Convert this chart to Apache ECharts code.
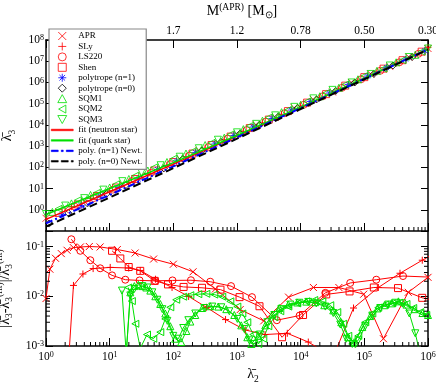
<!DOCTYPE html>
<html>
<head>
<meta charset="utf-8">
<title>lambda3 vs lambda2</title>
<script src="https://cdn.jsdelivr.net/npm/echarts@6/dist/echarts.min.js"></script>
<style>
html, body { margin: 0; padding: 0; background: #fff; }
#chart { width: 436px; height: 385px; }
</style>
</head>
<body>
<div id="chart"></div>
<script>
// ---- top panel: [lambda2, lambda3] ----
var aprTop = [[1,0.398],[2,1.0],[3.98,2.51],[7.94,5.62],[15.8,15.8],[31.6,39.8],[63.1,89.1],[126,251],[251,631],[501,1413],[1000,3548],[2000,1e4],[3980,2.24e4],[7940,6.31e4],[1.58e4,1.58e5],[3.16e4,3.55e5],[6.31e4,1e6],[1.26e5,2.51e6],[2.51e5,5.62e6],[5.01e5,1.58e7],[1e6,3.98e7]];
var slyTop = [[2.51,1.41],[5.01,3.55],[10,7.94],[20,20],[39.8,50.1],[79.4,126],[158,316],[316,794],[631,2000],[1259,5010],[2512,1.26e4],[5012,3.16e4],[1e4,7.94e4],[2e4,2e5],[3.98e4,5.01e5],[7.94e4,1.26e6],[1.58e5,3.16e6],[3.16e5,7.94e6],[6.31e5,2e7],[1e6,4.47e7]];
var ls220Top = [[2.82,1.41],[5.62,3.55],[11.2,8.91],[22.4,22.4],[44.7,56.2],[89.1,141],[178,355],[355,891],[708,2240],[1413,5620],[2818,1.41e4],[5623,3.55e4],[1.12e4,8.91e4],[2.24e4,2.24e5],[4.47e4,5.62e5],[8.91e4,1.41e6],[1.78e5,3.55e6],[3.55e5,8.91e6],[7.08e5,2.24e7]];
var shenTop = [[1.58,0.708],[3.16,1.78],[6.31,4.47],[12.6,11.2],[25.1,28.2],[50.1,70.8],[100,178],[200,447],[398,1122],[794,2818],[1585,7079],[3162,1.78e4],[6310,4.47e4],[1.26e4,1.12e5],[2.51e4,2.82e5],[5.01e4,7.08e5],[1e5,1.78e6],[2e5,4.47e6],[3.98e5,1.12e7],[7.94e5,2.82e7]];
var polyN1Top = [[1.78,0.562],[3.55,1.58],[7.08,4.47],[14.1,11.2],[28.2,28.2],[56.2,79.4],[112,200],[224,501],[447,1259],[891,3162],[1778,7943],[3548,2e4],[7079,5.01e4],[1.41e4,1.26e5],[2.82e4,3.16e5],[5.62e4,7.94e5],[1.12e5,2e6],[2.24e5,5.01e6],[4.47e5,1.26e7],[8.91e5,3.16e7]];
var polyN0Top = [[1.12,0.224],[2.24,0.708],[4.47,2.0],[8.91,5.62],[17.8,14.1],[35.5,35.5],[70.8,89.1],[141,251],[282,631],[562,1585],[1122,3981],[2239,1e4],[4467,2.51e4],[8913,6.31e4],[1.78e4,1.58e5],[3.55e4,3.98e5],[7.08e4,1e6],[1.41e5,2.51e6],[2.82e5,6.31e6],[5.62e5,1.58e7]];
var sqm1Top = [[1.26,0.794],[2.51,2.0],[5.01,5.01],[10,11.2],[20,28.2],[39.8,70.8],[79.4,178],[158,447],[316,1122],[631,2512],[1259,6310],[2512,1.58e4],[5012,3.98e4],[1e4,8.91e4],[2e4,2.24e5],[3.98e4,5.62e5],[7.94e4,1.41e6],[1.58e5,3.55e6],[3.16e5,8.91e6],[6.31e5,2e7]];
var sqm2Top = [[1.58,1.12],[3.16,2.82],[6.31,6.31],[12.6,15.8],[25.1,39.8],[50.1,100],[100,251],[200,562],[398,1413],[794,3548],[1585,8913],[3162,2.24e4],[6310,5.01e4],[1.26e4,1.26e5],[2.51e4,3.16e5],[5.01e4,7.94e5],[1e5,2e6],[2e5,4.47e6],[3.98e5,1.12e7],[7.94e5,2.82e7]];
var sqm3Top = [[1,0.631],[2,1.58],[3.98,3.55],[7.94,8.91],[15.8,22.4],[31.6,56.2],[63.1,126],[126,316],[251,794],[501,2000],[1000,4467],[2000,1.12e4],[3981,2.82e4],[7943,7.08e4],[1.58e4,1.78e5],[3.16e4,4.47e5],[6.31e4,1e6],[1.26e5,2.51e6],[2.51e5,6.31e6],[5.01e5,1.58e7],[1e6,3.98e7]];

// fits and Newtonian relations
var fitNS = [[1,0.355],[10,7.08],[100,141],[1000,2951],[1e4,66070],[1e5,1.549e6],[1e6,3.72e7]];
var fitQS = [[1,0.603],[10,10],[100,166],[1000,3162],[1e4,69180],[1e5,1.585e6],[1e6,3.72e7]];
var newtN1 = [[1,0.229],[10,5.01],[100,112],[1000,2570],[1e4,61660],[1e5,1.479e6],[1e6,3.63e7]];
var newtN0 = [[1,0.162],[10,3.80],[100,91.2],[1000,2239],[1e4,56230],[1e5,1.413e6],[1e6,3.55e7]];

// ---- bottom panel: [lambda2, relative error] ----
var aprErr = [[1.0,0.009],[1.15,0.035],[1.41,0.058],[1.74,0.072],[2.14,0.084],[2.69,0.095],[3.47,0.098],[4.79,0.1],[7.08,0.098],[13.2,0.087],[25.1,0.074],[49,0.056],[100,0.044],[204,0.031],[457,0.014],[1122,0.0054],[2630,0.0032],[6457,0.0096],[15850,0.015],[39810,0.015],[97720,0.011],[199500,0.0014],[489800,0.012],[1e6,0.024]];
var slyErr = [[2.3,0.0007],[2.7,0.0165],[3.8,0.028],[5.5,0.036],[10.2,0.038],[19.9,0.037],[30.2,0.033],[52.5,0.022],[95.5,0.015],[174,0.0099],[331,0.006],[661,0.0034],[1349,0.0021],[2754,0.0017],[6166,0.0018],[13180,0.0012],[32360,0.0006],[67610,0.0058],[166000,0.015],[363100,0.029],[812800,0.053],[1.2e6,0.07]];
var ls220Err = [[2.5,0.14],[3.46,0.082],[4.97,0.053],[7.1,0.0365],[10.9,0.0263],[17.6,0.0215],[29.5,0.0208],[52,0.0204],[97,0.0208],[189,0.021],[380,0.0196],[806,0.016],[1720,0.0096],[4227,0.0033],[9638,0.0041],[24400,0.0117],[60000,0.0185],[154000,0.0215],[405000,0.0255],[1.3e6,0.024]];
var shenErr = [[10.9,0.082],[14.7,0.0575],[19.9,0.0387],[30.2,0.0324],[51,0.0204],[82.5,0.0173],[145,0.0154],[282,0.0148],[550,0.0136],[1096,0.0096],[2255,0.0063],[5100,0.0015],[10900,0.0042],[25200,0.0109],[58600,0.0125],[141000,0.015],[338000,0.0146],[811000,0.0093],[1.3e6,0.0083]];
var sqm1Err = [[18.2,0.0007],[21.1,0.012],[24.4,0.016],[28.2,0.017],[32.5,0.016],[37.6,0.015],[43.5,0.013],[52.1,0.010],[62.4,0.007],[74.8,0.0045],[89.6,0.0025],[107,0.0014],[133,0.0012],[160,0.002],[185,0.0031],[221,0.0042],[285,0.0058],[380,0.0063],[508,0.0062],[679,0.0055],[906,0.0042],[1167,0.0026],[1452,0.0015],[1679,0.0011],[2163,0.0016],[2782,0.0026],[3581,0.0043],[4613,0.0058],[6397,0.0068],[8851,0.0075],[12250,0.0078],[16980,0.0076],[23500,0.0066],[32510,0.0052],[43450,0.003],[55980,0.0015],[69500,0.0012],[92900,0.0024],[124200,0.004],[160700,0.0057],[207000,0.0066],[266700,0.0072],[343600,0.0079],[458600,0.0068],[612300,0.0055],[818000,0.0046],[1e6,0.0042]];
var sqm2Err = [[19.6,0.015],[22.3,0.008],[25.3,0.0028],[30.3,0.0009],[38.6,0.0017],[48.4,0.0014],[62.4,0.0019],[74.8,0.0035],[89.6,0.006],[111,0.0085],[143,0.0098],[185,0.0105],[247,0.011],[330,0.0112],[440,0.0108],[587,0.0098],[785,0.0079],[1012,0.0062],[1212,0.0045],[1452,0.003],[1803,0.0017],[2163,0.0011],[2588,0.0014],[3104,0.0025],[3855,0.0038],[4786,0.005],[6397,0.0062],[8851,0.0072],[12250,0.0079],[16370,0.0084],[21880,0.0079],[29180,0.0066],[37580,0.0048],[46700,0.0028],[55980,0.0016],[64700,0.0011],[80350,0.0016],[103500,0.003],[133400,0.0045],[165600,0.0059],[213300,0.0068],[274800,0.0072],[354000,0.0074],[458600,0.007],[586100,0.0058],[756800,0.0048],[939700,0.0042]];
var sqm3Err = [[15.6,0.013],[18.2,0.0007],[21.1,0.0104],[24.4,0.014],[32.5,0.016],[39,0.015],[46.8,0.012],[56,0.0085],[67.1,0.0055],[80.4,0.0032],[99.8,0.0016],[120,0.0014],[143,0.0023],[172,0.0033],[221,0.0045],[306,0.0058],[409,0.0062],[567,0.006],[758,0.005],[1012,0.0035],[1301,0.0022],[1560,0.0013],[1868,0.0011],[2323,0.0017],[2992,0.003],[3855,0.0042],[4966,0.0055],[6871,0.0068],[9508,0.0074],[13180,0.0077],[17580,0.0072],[24380,0.0062],[32510,0.0046],[41880,0.0027],[52000,0.0014],[64700,0.0011],[80350,0.0013],[103500,0.0025],[133400,0.0041],[178200,0.0058],[237700,0.0068],[306300,0.0074],[394500,0.0072],[508200,0.0045],[631000,0.0018],[750800,0.0007]];

// axis tick labels
var massLabels = ['', '', '1.7', '1.2', '0.78', '0.50', '0.30'];   // indexed by log10(lambda2)
var xDecades = [1, 10, 100, 1000, 1e4, 1e5];
var yErrDecades = [0.001, 0.01];
var minorSteps = [2, 3, 4, 5, 6, 7, 8, 9];

var minorX = [], minorYErr = [];
xDecades.forEach(function (d) { minorSteps.forEach(function (m) { minorX.push(d * m); }); });
yErrDecades.forEach(function (d) { minorSteps.forEach(function (m) { minorYErr.push(d * m); }); });

var FONT = 'Liberation Serif';
var RED = '#ff0000', GREEN = '#00e000', BLUE = '#0000ff', BLACK = '#000000';
var SYM = {
  cross: 'path://M0,0L10,10M10,0L0,10',
  plus: 'path://M5,0L5,10M0,5L10,5',
  star: 'path://M5,0L5,10M0,5L10,5M1.5,1.5L8.5,8.5M8.5,1.5L1.5,8.5',
  square: 'path://M0,0L10,0L10,10L0,10Z',
  diamond: 'path://M5,0L10,5L5,10L0,5Z',
  up: 'path://M5,0L10,9L0,9Z',
  left: 'path://M0,5L9,0L9,10Z',
  down: 'path://M0,0L10,0L5,9Z'
};
// legend samples for the four curves
var LINE_ICON = {
  solid: 'path://M0,0L22,0L22,1.6L0,1.6Z',
  dashDot: 'path://M0,0L7,0L7,1.6L0,1.6ZM10,0L12,0L12,1.6L10,1.6ZM15,0L22,0L22,1.6L15,1.6Z',
  dash: 'path://M0,0L7,0L7,1.6L0,1.6ZM10,0L17,0L17,1.6L10,1.6ZM20,0L22,0L22,1.6L20,1.6Z'
};

var myChart = echarts.init(document.getElementById('chart'), null, { renderer: 'canvas' });

var powRich = {
  b: { fontFamily: FONT, fontSize: 11.5, color: '#000', verticalAlign: 'bottom', lineHeight: 12 },
  s: { fontFamily: FONT, fontSize: 8, color: '#000', verticalAlign: 'top', lineHeight: 8 }
};
function powFmt(v) {
  var e = Math.log10(v), r = Math.round(e);
  if (Math.abs(e - r) > 1e-6) return '';
  return '{b|10}{s|' + r + '}';
}
function powFmtPos(v) {
  var e = Math.log10(v);
  if (e < -0.5) return '';
  return powFmt(v);
}

var nameRich = {
  m: { fontFamily: FONT, fontSize: 14, color: '#000' },
  sb: { fontFamily: FONT, fontSize: 9.5, color: '#000', verticalAlign: 'bottom', lineHeight: 10 },
  sp: { fontFamily: FONT, fontSize: 9.5, color: '#000', verticalAlign: 'top', lineHeight: 10 }
};

function axisBase(extra) {
  var a = {
    type: 'log', logBase: 10,
    axisLine: { show: true, onZero: false, lineStyle: { color: '#000', width: 1.5 } },
    axisTick: { show: true, inside: true, length: 8, lineStyle: { color: '#000', width: 1 } },
    axisLabel: { show: false },
    splitLine: { show: false },
    minorTick: { show: false },
    minorSplitLine: { show: false }
  };
  for (var k in extra) a[k] = extra[k];
  return a;
}

function minorTicks(xi, yi, vals, side) {
  return {
    type: 'custom', xAxisIndex: xi, yAxisIndex: yi, silent: true, z: 6,
    data: vals,
    renderItem: function (params, api) {
      var v = api.value(0);
      var cs = params.coordSys;
      var x1, y1, x2, y2;
      if (side === 'bottom') {
        x1 = x2 = api.coord([v, 1])[0];
        y1 = cs.y + cs.height; y2 = y1 - 4;
      } else {
        y1 = y2 = api.coord([1, v])[1];
        x1 = side === 'left' ? cs.x : cs.x + cs.width;
        x2 = side === 'left' ? x1 + 4 : x1 - 4;
      }
      return { type: 'line', shape: { x1: x1, y1: y1, x2: x2, y2: y2 }, style: { stroke: '#000', lineWidth: 1 } };
    }
  };
}

function topScatter(name, data, sym, color) {
  return {
    name: name, type: 'scatter', xAxisIndex: 0, yAxisIndex: 0,
    data: data, symbol: sym, symbolSize: 7,
    itemStyle: { color: 'rgba(0,0,0,0)', borderColor: color, borderWidth: 1 }
  };
}
function errLine(name, data, sym, color) {
  return {
    name: name, type: 'line', xAxisIndex: 2, yAxisIndex: 2,
    data: data, symbol: sym, symbolSize: 7, showSymbol: true, showAllSymbol: true,
    itemStyle: { color: 'rgba(0,0,0,0)', borderColor: color, borderWidth: 1 },
    lineStyle: { color: color, width: 1 }
  };
}
function fitLine(name, data, color, type, width) {
  return {
    name: name, type: 'line', xAxisIndex: 0, yAxisIndex: 0, z: 4,
    data: data, symbol: 'none',
    itemStyle: { color: color, borderColor: color },
    lineStyle: { color: color, width: width, type: type }
  };
}

var legendNames = ['APR', 'SLy', 'LS220', 'Shen', 'polytrope (n=1)', 'polytrope (n=0)', 'SQM1', 'SQM2', 'SQM3'];

var option = {
  backgroundColor: '#fff',
  animation: false,
  textStyle: { fontFamily: FONT },
  grid: [
    { left: 46, right: 8, top: 40, height: 191, outerBoundsMode: 'none' },
    { left: 46, right: 8, top: 231, height: 115, outerBoundsMode: 'none' }
  ],
  legend: {
    orient: 'vertical', left: 49, top: 29,
    padding: [2, 4, 3, 2], itemGap: 0.44,
    itemWidth: 22, itemHeight: 8,
    backgroundColor: '#fff', borderColor: '#888', borderWidth: 1.2,
    selectedMode: false,
    itemStyle: { borderWidth: 1 },
    textStyle: { fontFamily: FONT, fontSize: 9, color: '#000', lineHeight: 10 },
    data: legendNames.concat([
      { name: 'fit (neutron star)', icon: LINE_ICON.solid, itemStyle: { borderWidth: 0.5 } },
      { name: 'fit (quark star)', icon: LINE_ICON.solid, itemStyle: { borderWidth: 0.5 } },
      { name: 'poly. (n=1) Newt.', icon: LINE_ICON.dashDot, itemStyle: { borderWidth: 0.5 } },
      { name: 'poly. (n=0) Newt.', icon: LINE_ICON.dash, itemStyle: { borderWidth: 0.5 } }
    ])
  },
  xAxis: [
    axisBase({ gridIndex: 0, position: 'bottom', min: 1, max: 1e6 }),
    axisBase({
      gridIndex: 0, position: 'top', min: 1, max: 1e6,
      axisLabel: {
        show: true, margin: 3, fontFamily: FONT, fontSize: 11.5, color: '#000',
        showMinLabel: true, showMaxLabel: true,
        formatter: function (v) { return massLabels[Math.round(Math.log10(v))] || ''; }
      },
      name: '{m|M}{sp|(APR)}{m| [M}{sb|\u2299}{m|]}',
      nameLocation: 'middle', nameGap: 20,
      nameTextStyle: { rich: nameRich, lineHeight: 18, padding: [0, 0, 0, 10] }
    }),
    axisBase({
      gridIndex: 1, position: 'bottom', min: 1, max: 1e6,
      axisLabel: { show: true, formatter: powFmt, rich: powRich, lineHeight: 14, margin: 5, showMinLabel: true, showMaxLabel: true },
      name: '{m|\u03bb\u0304}{sb|2}',
      nameLocation: 'middle', nameGap: 18,
      nameTextStyle: { rich: nameRich, lineHeight: 20, padding: [0, 0, 0, 32] }
    })
  ],
  yAxis: [
    axisBase({
      gridIndex: 0, position: 'left', min: 0.1, max: 1e8, axisTick: { show: true, inside: true, length: 7, lineStyle: { color: '#000', width: 1 } },
      axisLabel: { show: true, formatter: powFmtPos, rich: powRich, lineHeight: 14, margin: 2, showMinLabel: true, showMaxLabel: true },
      name: '{m|\u03bb\u0304}{sb|3}', nameLocation: 'middle', nameGap: 22, nameRotate: 90,
      nameTextStyle: { rich: nameRich, lineHeight: 20 }
    }),
    axisBase({ gridIndex: 0, position: 'right', min: 0.1, max: 1e8, axisTick: { show: true, inside: true, length: 7, lineStyle: { color: '#000', width: 1 } } }),
    axisBase({
      gridIndex: 1, position: 'left', min: 0.001, max: 0.205, axisTick: { show: true, inside: true, length: 7, lineStyle: { color: '#000', width: 1 } },
      axisLabel: { show: true, formatter: powFmt, rich: powRich, lineHeight: 14, margin: 2, showMinLabel: true, showMaxLabel: false },
      name: '{m||\u03bb\u0304}{sb|3}{m|-\u03bb\u0304}{sb|3}{sp|(fit)}{m||/\u03bb\u0304}{sb|3}{sp|(fit)}',
      nameLocation: 'middle', nameGap: 20, nameRotate: 90,
      nameTextStyle: { rich: nameRich, lineHeight: 20 }
    }),
    axisBase({ gridIndex: 1, position: 'right', min: 0.001, max: 0.205, axisTick: { show: true, inside: true, length: 7, lineStyle: { color: '#000', width: 1 } } })
  ],
  series: [
    topScatter('APR', aprTop, SYM.cross, RED),
    topScatter('SLy', slyTop, SYM.plus, RED),
    topScatter('LS220', ls220Top, 'circle', RED),
    topScatter('Shen', shenTop, SYM.square, RED),
    topScatter('polytrope (n=1)', polyN1Top, SYM.star, BLUE),
    topScatter('polytrope (n=0)', polyN0Top, SYM.diamond, BLACK),
    topScatter('SQM1', sqm1Top, SYM.up, GREEN),
    topScatter('SQM2', sqm2Top, SYM.left, GREEN),
    topScatter('SQM3', sqm3Top, SYM.down, GREEN),
    fitLine('fit (neutron star)', fitNS, RED, 'solid', 1.5),
    fitLine('fit (quark star)', fitQS, GREEN, 'solid', 1.5),
    fitLine('poly. (n=1) Newt.', newtN1, BLUE, [7, 3, 2, 3], 2),
    fitLine('poly. (n=0) Newt.', newtN0, BLACK, [8, 4], 2),
    errLine('APR', aprErr, SYM.cross, RED),
    errLine('SLy', slyErr, SYM.plus, RED),
    errLine('LS220', ls220Err, 'circle', RED),
    errLine('Shen', shenErr, SYM.square, RED),
    errLine('SQM1', sqm1Err, SYM.up, GREEN),
    errLine('SQM2', sqm2Err, SYM.left, GREEN),
    errLine('SQM3', sqm3Err, SYM.down, GREEN),
    minorTicks(0, 0, minorX, 'bottom'),
    minorTicks(2, 2, minorX, 'bottom'),
    minorTicks(2, 2, minorYErr, 'left'),
    minorTicks(2, 2, minorYErr, 'right')
  ]
};
myChart.setOption(option);
</script>
</body>
</html>
